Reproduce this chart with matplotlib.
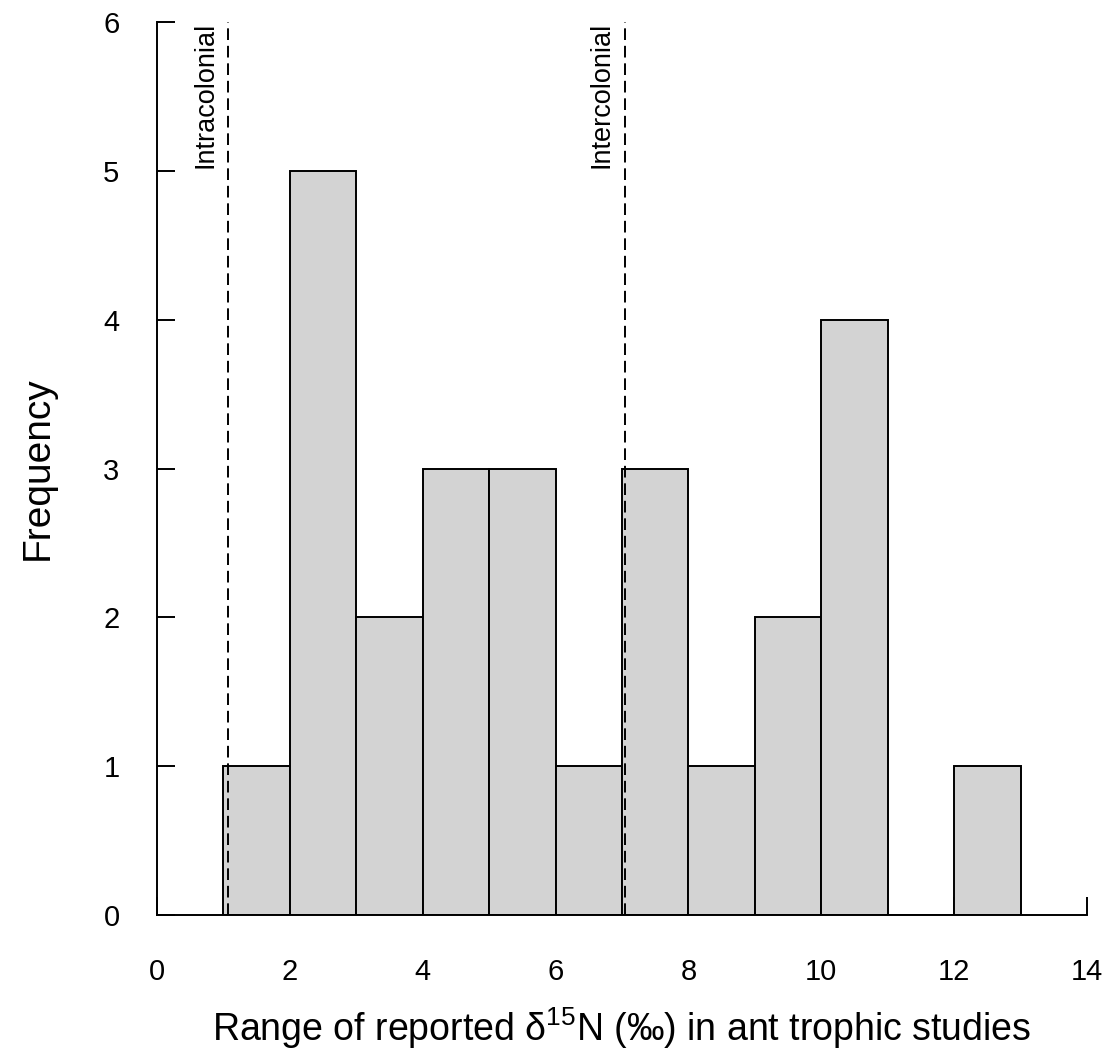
import numpy as np
import matplotlib.pyplot as plt

plt.rcParams['font.family'] = ['Liberation Sans', 'DejaVu Sans']

# Histogram of d15N ranges (bin edges 1..13, width 1)
bin_edges = [1, 2, 3, 4, 5, 6, 7, 8, 9, 10, 11, 12, 13]
counts = [1, 5, 2, 3, 3, 1, 3, 1, 2, 4, 0, 1]

# Reference ranges marked with dashed lines
ref_x = [1.07, 7.04]
ref_labels = ["Intracolonial", "Intercolonial"]

x_ticks = [0, 2, 4, 6, 8, 10, 12, 14]
y_ticks = [0, 1, 2, 3, 4, 5, 6]

fig = plt.figure(figsize=(11.12, 10.59), dpi=100)
ax = fig.add_axes([0.1412, 0.136, 0.8363, 0.843])

lefts = np.array(bin_edges[:-1])
widths = np.diff(bin_edges)
ax.bar(lefts, counts, width=widths, align='edge', color='#d3d3d3',
       edgecolor='black', linewidth=1.4, zorder=2)

for xv, lab in zip(ref_x, ref_labels):
    ax.plot([xv, xv], [0, 6], color='black', linestyle=(0, (6, 3)),
            linewidth=1.4, zorder=3)
    ax.text(xv - 0.15, 6, lab, rotation=90, ha='right', va='top',
            fontsize=19.5)

ax.set_xlim(0, 14)
ax.set_ylim(0, 6)
ax.set_xticks(x_ticks)
ax.set_yticks(y_ticks)
for s in ['top', 'right']:
    ax.spines[s].set_visible(False)
for s in ['left', 'bottom']:
    ax.spines[s].set_linewidth(1.4)
ax.tick_params(axis='both', direction='in', length=13, width=1.4,
               labelsize=21)
ax.tick_params(axis='y', pad=27)
ax.tick_params(axis='x', pad=31)

ax.set_xlabel(r"Range of reported $\mathregular{\delta^{15}}$N (‰) in ant trophic studies",
              fontsize=27, labelpad=14)
ax.set_ylabel("Frequency", fontsize=28, labelpad=34)

fig.savefig("out.png", dpi=100)
